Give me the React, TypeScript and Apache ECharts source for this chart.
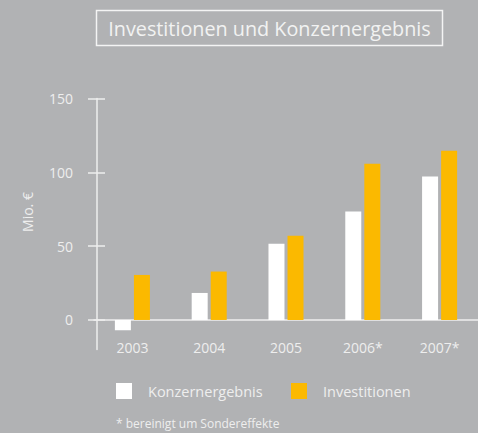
import React, { useEffect, useRef } from "react";
import * as echarts from "echarts";

const categories = ["2003", "2004", "2005", "2006*", "2007*"];
const konzernergebnis = [-7, 18.3, 51.6, 73.5, 97.2];
const investitionen = [30.5, 32.8, 57, 105.8, 114.6];
const yTicks = [0, 50, 100, 150];

const BG = "#b1b2b4";
const TXT = "#eeeeee";
const ORANGE = "#fbb900";
const FONT = "'Open Sans', 'Noto Sans', sans-serif";

export default function App() {
  const ref = useRef<HTMLDivElement>(null);
  useEffect(() => {
    if (!ref.current) return;
    const chart = echarts.init(ref.current, null, { renderer: "svg" });
    const yBase = {
      type: "value",
      min: -20,
      max: 150,
      position: "left",
      offset: -3,
      splitLine: { show: false },
    };
    chart.setOption({
      animation: false,
      backgroundColor: BG,
      textStyle: { fontFamily: FONT },
      grid: { left: 94, right: -11, top: 98.5, bottom: 83.5, containLabel: false },
      xAxis: {
        type: "category",
        data: categories,
        axisLine: { onZero: true, lineStyle: { color: TXT, width: 1.5 } },
        axisTick: { show: false },
        axisLabel: { color: TXT, fontSize: 14, margin: -9, fontFamily: FONT },
      },
      yAxis: [
        {
          ...yBase,
          axisLine: { show: true, lineStyle: { color: TXT, width: 1.5 } },
          axisTick: {
            show: true,
            length: 9,
            customValues: yTicks,
            lineStyle: { color: TXT, width: 1.5 },
          },
          axisLabel: {
            show: true,
            color: TXT,
            fontSize: 14,
            margin: 24,
            customValues: yTicks,
            fontFamily: FONT,
          },
        },
        {
          ...yBase,
          axisLine: { show: false },
          axisTick: {
            show: true,
            inside: true,
            length: 8,
            customValues: yTicks,
            lineStyle: { color: TXT, width: 1.5 },
          },
          axisLabel: { show: false },
        },
      ],
      legend: [
        {
          data: ["Konzernergebnis"],
          left: 116,
          top: 383,
          padding: 0,
          itemWidth: 16,
          itemHeight: 16,
          icon: "rect",
          textStyle: { color: TXT, fontSize: 14.5, padding: [0, 0, 0, 11], fontFamily: FONT },
        },
        {
          data: ["Investitionen"],
          left: 291,
          top: 383,
          padding: 0,
          itemWidth: 16,
          itemHeight: 16,
          icon: "rect",
          textStyle: { color: TXT, fontSize: 14.5, padding: [0, 0, 0, 11], fontFamily: FONT },
        },
      ],
      graphic: [
        {
          type: "rect",
          shape: { x: 96.5, y: 10.5, width: 346, height: 35 },
          style: { fill: "none", stroke: "#f4f4f4", lineWidth: 1.5 },
        },
        {
          type: "text",
          x: 269.5,
          y: 28.5,
          style: {
            text: "Investitionen und Konzernergebnis",
            fill: "#f2f2f2",
            fontSize: 19.8,
            fontFamily: FONT,
            align: "center",
            verticalAlign: "middle",
          },
        },
        {
          type: "text",
          x: 27,
          y: 212,
          rotation: Math.PI / 2,
          style: {
            text: "Mio. €",
            fill: TXT,
            fontSize: 14,
            fontFamily: FONT,
            align: "center",
            verticalAlign: "middle",
          },
        },
        {
          type: "text",
          x: 116,
          y: 423,
          style: {
            text: "* bereinigt um Sondereffekte",
            fill: TXT,
            fontSize: 12,
            fontFamily: FONT,
            align: "left",
            verticalAlign: "middle",
          },
        },
      ],
      series: [
        {
          name: "Konzernergebnis",
          type: "bar",
          data: konzernergebnis,
          barWidth: 16,
          barGap: "19%",
          itemStyle: { color: "#ffffff" },
        },
        {
          name: "Investitionen",
          type: "bar",
          data: investitionen,
          barWidth: 16,
          barGap: "19%",
          itemStyle: { color: ORANGE },
        },
      ],
    });
    return () => chart.dispose();
  }, []);
  return (
    <div
      ref={ref}
      style={{ position: "fixed", left: 0, top: 0, width: 478, height: 433 }}
    />
  );
}
